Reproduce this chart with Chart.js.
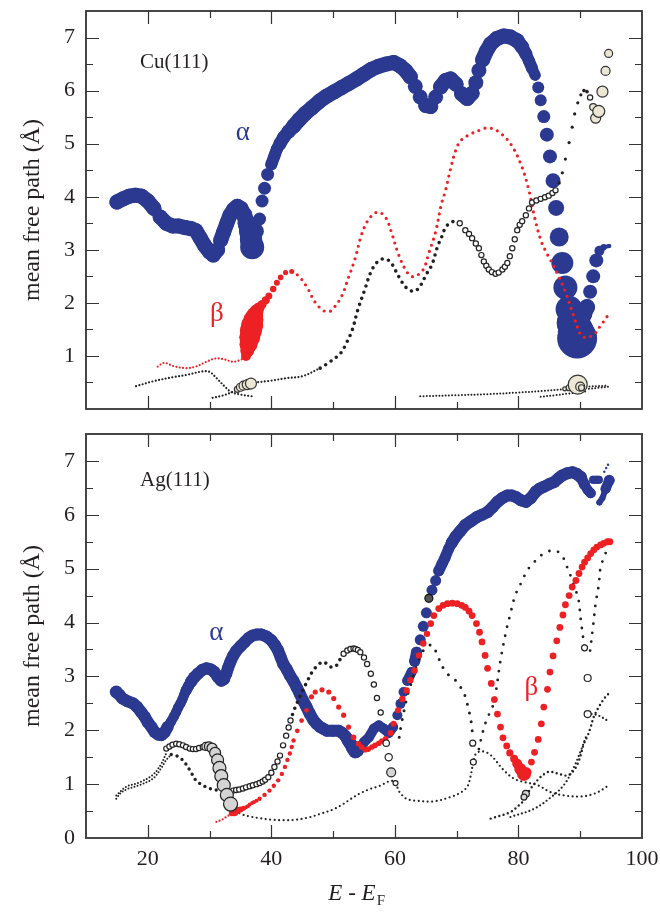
<!DOCTYPE html>
<html>
<head>
<meta charset="utf-8">
<script src="https://cdn.jsdelivr.net/npm/chart.js@4.4.1/dist/chart.umd.min.js"></script>
<style>
  body { margin: 0; background: #fff; }
  #wrap { position: relative; width: 660px; height: 912px; }
  canvas { position: absolute; left: 0; }
</style>
</head>
<body>
<div id="wrap">
  <canvas id="cuChart" width="660" height="420" style="top:0"></canvas>
  <canvas id="agChart" width="660" height="492" style="top:420px"></canvas>
</div>
<script>
// axes
const xTickLabels = [20, 40, 60, 80, 100];
const yTickLabels = [0, 1, 2, 3, 4, 5, 6, 7];

// Cu(111) : [E - EF, mean free path, marker weight]
const cuAlpha = [
  [15,3.90,7.5],[16,3.96,7.5],[17,4.01,7.5],[18,4.03,7.5],[19,4.01,7.5],[20,3.92,7.5],[21,3.78,7.5],[22,3.62,7.5],
  [23,3.50,7.5],[24,3.45,7.5],[25,3.45,7.5],[26,3.42,7.5],[27,3.40,7.5],[27.8,3.36,7.5],[28.5,3.22,7.5],[29.2,3.08,7.5],
  [30,2.96,7.5],[30.6,2.90,7.5],[31.3,3.00,7.5],[31.8,3.18,7.5],[32.3,3.34,7.5],[32.8,3.50,7.5],[33.3,3.65,7.5],
  [33.9,3.76,7.5],[34.5,3.82,7.5],[35.1,3.78,7.5],[35.6,3.66,8],[36.0,3.50,9],[36.4,3.35,10],[36.7,3.20,11],
  [36.9,3.05,12],[37.5,3.35,8],[38.1,3.58,6.5],[38.5,3.92,6.5],[38.9,4.16,6.5],[39.4,4.42,6.5],[40.0,4.61,6],
  [40.5,4.77,6],[40.9,4.90,6],[41.4,5.00,6.5],[42.0,5.12,6.5],[42.8,5.23,7],[43.6,5.33,7.5],[44.5,5.45,7.5],
  [45.5,5.57,7.5],[46.6,5.68,7.5],[47.8,5.80,7.5],[49.0,5.90,7.5],[50.2,5.98,7.5],[51.4,6.06,7.5],[52.6,6.14,7.5],
  [53.8,6.22,7.5],[55.0,6.31,7.5],[56.2,6.40,7.5],[57.4,6.46,7.5],[58.6,6.50,7.5],[59.8,6.53,7.5],[60.8,6.47,7.5],
  [61.7,6.38,7.5],[62.5,6.26,7.5],[63.3,6.08,7.5],[64.1,5.88,7.5],[65.0,5.72,7.5],[65.8,5.70,7.5],[66.6,5.88,7.5],
  [67.4,6.07,7.5],[68.2,6.19,7.5],[69.0,6.22,7.5],[69.9,6.12,7.5],[70.8,5.94,7.5],[71.7,5.85,7.5],[72.5,5.95,7.5],
  [73.1,6.15,7.5],[73.6,6.38,7.5],[74.2,6.58,7.5],[74.8,6.74,7.5],[75.5,6.88,7.5],[76.5,6.98,7.5],[77.6,7.03,7.5],
  [78.7,7.01,7.5],[79.8,6.94,7.5],[80.6,6.82,7],[81.2,6.69,6.5],[81.7,6.56,6],[82.2,6.42,6],[82.7,6.29,5.5],
  [83.2,6.06,6],[83.6,5.82,6],[84.1,5.51,6.5],[84.6,5.17,7],[85.1,4.76,7],[85.6,4.30,7.5],[86.1,3.79,8],
  [86.6,3.24,9.5],[87.1,2.75,11],[87.6,2.29,12],[88.2,1.88,13.5],[88.8,1.62,16],[89.3,1.45,18],[89.5,1.33,20],
  [90.0,1.67,10],[90.5,1.80,9],[91.1,1.92,8],[91.6,2.21,7],[92.1,2.50,7],[92.6,2.80,7],[93.1,2.98,5],
  [93.8,3.05,3],[94.7,3.07,2]
];
const cuBetaFine = [
  [21.6,0.80],[22.7,0.87],[24.1,0.81],[26.2,0.77],[27.8,0.80],[29.5,0.89],[30.8,0.95],[32.2,0.94],
  [33.8,0.89],[34.9,0.92],[35.6,0.96]
];
const cuBetaBlob = [
  [35.9,1.00,5],[36.1,1.10,7],[36.3,1.22,9],[36.5,1.35,10.5],[36.7,1.48,11],[36.9,1.58,11],[37.1,1.68,10],
  [37.3,1.76,8.5],[37.6,1.84,7],[38.0,1.91,5.5],[38.5,1.97,4.5],[39.1,2.05,4],[39.6,2.13,3.5],[40.3,2.26,3.2],
  [40.9,2.38,3],[41.5,2.48,2.8],[42.3,2.57,2.6],[43.3,2.59,2.5]
];
const cuBetaDots = [
  [43.3,2.59],[44.4,2.51],[45.8,2.29],[47.1,2.01],[48.5,1.85],[49.5,1.84],[50.1,1.90],[51.4,2.13],[52.5,2.48],
  [53.6,2.85],[54.5,3.25],[55.5,3.53],[56.6,3.68],[57.5,3.71],[58.6,3.59],[59.5,3.31],[60.5,2.94],[61.6,2.65],
  [62.5,2.51],[63.3,2.50],[64.6,2.63],[65.5,2.94],[66.6,3.34],[67.5,3.85],[68.2,4.12],[69.0,4.52],[69.8,4.86],
  [70.6,5.05],[71.9,5.16],[73.9,5.26],[75.2,5.30],[77.1,5.20],[79.0,4.95],[80.6,4.55],[81.7,4.12],[82.6,3.62],
  [83.6,3.19],[84.6,2.93],[85.1,2.83],[86.3,2.55],[87.6,2.21],[88.8,1.80],[90.1,1.39],[90.7,1.35],[91.3,1.35],
  [91.7,1.37],[92.2,1.41],[92.7,1.46],[93.1,1.54],[93.6,1.62],[94.2,1.71],[94.7,1.84]
];
const cuBlackA = [
  [18.1,0.43],[20.8,0.52],[24.1,0.60],[26.2,0.64],[28.9,0.71],[30.0,0.70],[30.8,0.62],[31.4,0.55],
  [32.4,0.43],[33.5,0.32],[35.1,0.27],[36.8,0.24]
];
const cuBlackB = [[30.5,0.21],[32.0,0.25],[33.5,0.31],[34.5,0.38]];
const cuBlackB2 = [[37.3,0.50],[39.7,0.53],[42.4,0.58],[45.1,0.62],[47.9,0.77]];
const cuBlackB3 = [
  [47.9,0.77],[49.5,0.89],[51.2,1.05],[52.1,1.23],[53.1,1.49],[54.0,1.87],[55.1,2.24],[56.0,2.55],[57.0,2.75],
  [58.1,2.83],[59.2,2.78],[60.1,2.61],[61.1,2.40],[62.1,2.26],[63.2,2.22],[64.1,2.32],[65.1,2.54],[66.0,2.72],
  [66.9,3.06],[67.6,3.25],[68.3,3.44],[69.5,3.54]
];
const cuRings = [
  [70.5,3.50,2.6],[71.4,3.37,2.6],[72.0,3.30,2.6],[72.5,3.22,2.6],[73.1,3.12,2.6],[73.6,3.03,2.6],[74.0,2.90,2.6],
  [74.4,2.78,2.6],[74.8,2.70,2.6],[75.2,2.63,2.6],[75.7,2.58,2.6],[76.3,2.55,2.6],[76.8,2.57,2.6],[77.4,2.63,2.6],
  [77.8,2.68,2.6],[78.2,2.75,2.6],[78.6,2.88,2.6],[79.0,3.03,2.6],[79.4,3.20,2.6],[79.8,3.37,2.6],[80.2,3.47,2.6],
  [80.6,3.54,2.6],[81.2,3.65,2.6],[81.7,3.78,2.6],[82.2,3.89,2.6],[82.9,3.93,2.6],[83.6,3.96,2.6],[84.3,3.99,2.6],
  [84.9,4.02,2.6],[85.5,4.07,2.6],[86.0,4.12,2.6],[91.6,5.87,2.6]
];
const cuBlackC = [
  [86.6,4.26,1.6],[87.1,4.45,1.6],[87.6,4.71,1.6],[88.2,5.02,1.6],[88.7,5.31,1.6],[89.1,5.56,1.6],[89.6,5.77,1.6],
  [90.1,5.92,1.6],[90.6,6.00,1.8],[91.1,5.98,1.8]
];
const cuTan = [
  [34.5,0.37,3],[35.0,0.41,4],[35.5,0.44,4.5],[36.1,0.46,5],[36.7,0.48,5.5],
  [92.1,5.69,3.5],[92.5,5.48,5],[93.0,5.61,6],[93.6,5.98,5.5],[94.1,6.37,4.5],[94.6,6.70,4],
  [87.5,0.38,2],[88.2,0.40,3],[88.9,0.42,4.5],[89.6,0.46,9.5],[90.0,0.42,4.5],[90.2,0.40,3]
];
const cuLowC = [[64.1,0.24],[70,0.26],[75,0.28],[80,0.31],[84,0.34],[87,0.37],[89,0.40],[91,0.42],[94.6,0.44]];
const cuLowD = [[83.6,0.23],[86,0.26],[88,0.29],[90,0.32],[91.1,0.33]];
const cuLowE = [[91.4,0.38],[93,0.40],[94.6,0.42]];

// Ag(111)
const agAlpha = [
  [14.9,2.71,6.5],[15.4,2.66,6],[15.9,2.59,6],[16.7,2.54,6],[17.6,2.50,6],[18.3,2.43,6],[18.9,2.34,6],[19.5,2.25,6],
  [20.0,2.15,6],[20.6,2.06,6],[21.1,1.97,6],[21.7,1.92,6],[22.2,1.91,6],[22.7,1.96,6],[23.2,2.06,6],[23.7,2.15,5],
  [24.2,2.25,5],[24.6,2.34,5],[24.9,2.42,5],[25.3,2.50,5],[25.6,2.57,5],[25.9,2.66,5],[26.2,2.74,5.5],[26.6,2.82,5.5],
  [27.0,2.90,6],[27.5,2.98,6],[28.1,3.05,6],[28.8,3.12,6],[29.5,3.15,6],[30.2,3.13,6],[30.8,3.08,6],[31.4,2.98,6],
  [31.9,2.93,6.5],[32.3,2.96,6.5],[32.7,3.05,6],[33.0,3.16,6],[33.4,3.28,6],[33.8,3.38,6],[34.3,3.47,6],[35.0,3.56,6],
  [35.7,3.64,6],[36.3,3.71,6],[37.0,3.76,6],[37.7,3.78,6],[38.4,3.78,6],[39.2,3.74,6],[40.0,3.67,6],[40.6,3.58,6],
  [41.1,3.48,6],[41.5,3.36,6],[41.9,3.24,6],[42.5,3.13,6],[43.0,3.02,6],[43.6,2.91,6],[44.1,2.80,6],[44.6,2.68,6],
  [45.1,2.56,6],[45.7,2.43,6],[46.2,2.31,6],[46.8,2.19,6],[47.3,2.12,6],[47.9,2.06,6],[48.4,2.03,6],[49.0,1.99,6],
  [49.9,1.99,6],[50.9,1.99,6],[51.5,1.95,6],[52.0,1.89,6],[52.4,1.82,6.5],[52.8,1.75,6.5],[53.2,1.68,7],[53.6,1.61,7],
  [54.0,1.62,6],[54.5,1.70,5],[55.0,1.78,5],[55.8,1.87,5],[56.6,2.03,5],[57.4,2.09,5],[58.2,2.03,5],[59.0,1.95,5],
  [59.7,2.06,5],[60.4,2.28,5],[60.9,2.49,5],[61.4,2.71,5],[62.0,2.92,5],[62.7,3.08,5],[63.2,3.28,5.5],[63.5,3.45,5.5],
  [64.1,3.68,5.5],[64.6,3.93,5.5],[65.1,4.18,5.5],[66.0,4.60,5.5],[66.6,4.78,5.5],[67.1,4.96,5.5],[67.6,5.08,5.5],
  [68.1,5.20,5.5],[68.7,5.37,5.5],[69.2,5.48,6],[69.8,5.59,6],[70.6,5.70,6],[71.4,5.81,6],[72.3,5.88,6],[73.3,5.96,6],
  [74.1,6.00,6],[75.0,6.05,6],[75.8,6.14,6],[76.6,6.24,6],[77.4,6.31,6],[78.2,6.36,6],[78.9,6.36,6],[79.6,6.33,6],
  [80.4,6.27,6],[81.2,6.24,6],[82.0,6.31,6],[82.8,6.43,6],[83.5,6.49,6],[84.1,6.52,6],[85.0,6.57,6],[85.8,6.61,6],
  [86.5,6.68,6],[87.1,6.73,6],[87.9,6.77,6],[88.7,6.79,6],[89.4,6.76,6],[90.1,6.70,6],[90.7,6.56,5.5],[91.2,6.46,5],
  [91.7,6.40,5],[92.1,6.65,4],[92.6,6.65,4],[93.0,6.65,4],[93.1,6.23,3],[93.6,6.31,3],[94.1,6.48,5],[94.7,6.64,5.5]
];
const agAlphaTail = [[93.9,6.80,1.2],[94.2,6.87,1.2],[94.5,6.93,1.2]];
const agBetaFine = [[31.1,0.30],[32.0,0.34],[32.7,0.39],[33.4,0.44]];
const agBeta = [
  [33.6,0.46,3],[34.0,0.48,4],[34.5,0.51,3.5],[35.0,0.53,3],[35.5,0.55,2.5],[35.9,0.57,2],[36.2,0.59,2],[36.5,0.62,2],
  [36.9,0.65,2],[37.2,0.67,2],[37.6,0.69,2],[38.1,0.73,2.2],[38.9,0.80,2.2],[39.7,0.88,2.2],[40.4,0.97,2.2],
  [41.1,1.07,2.2],[41.7,1.19,2.2],[42.2,1.32,2.2],[42.6,1.45,2.2],[43.0,1.57,2.2],[43.3,1.69,2.2],[43.6,1.81,2.2],
  [44.2,1.99,2.4],[44.9,2.18,2.4],[45.7,2.37,2.4],[46.5,2.62,2.6],[47.1,2.71,2.6],[48.2,2.75,2.6],[49.3,2.71,2.6],
  [50.1,2.59,2.6],[50.9,2.43,2.6],[51.7,2.28,2.6],[52.5,2.06,2.6],[53.3,1.87,2.8],[54.1,1.75,2.8],[54.6,1.69,2.8],
  [55.2,1.64,2.8],[55.7,1.65,2.8],[56.3,1.69,2.8],[56.8,1.72,2.8],[57.4,1.76,2.8],[57.9,1.80,2.8],[58.5,1.84,2.8],
  [59.3,1.95,3],[59.8,2.12,3],[60.5,2.37,3],[61.2,2.58,3.2],[61.9,2.74,3.2],[62.5,2.93,3.2],[63.2,3.11,3.2],
  [63.9,3.39,3.2],[64.6,3.61,3.2],[65.2,3.79,3.2],[65.8,3.98,3.4],[66.3,4.13,3.4],[67.1,4.26,3.4],[67.8,4.32,3.4],
  [68.5,4.35,3.4],[69.3,4.36,3.4],[70.1,4.35,3.4],[70.8,4.32,3.4],[71.4,4.28,3.4],[72.0,4.21,3.4],[72.5,4.13,3.4],
  [73.2,3.98,3.4],[73.7,3.82,3.4],[74.1,3.64,3.4],[74.6,3.39,3.4],[75.0,3.15,3.4],[75.6,2.87,3.4],[76.1,2.57,3.4],
  [76.6,2.30,3.4],[77.1,2.06,3.4],[77.5,1.86,3.4],[78.1,1.71,3.4],[78.6,1.58,3.6],[79.3,1.47,4],[79.8,1.38,5],
  [80.3,1.28,6],[80.9,1.19,7],[81.3,1.22,5],[82.1,1.41,3.4],[82.6,1.59,3.4],[83.2,1.83,3.4],[83.7,2.12,3.4],
  [84.1,2.43,3.4],[84.7,2.76,3.4],[85.1,3.08,3.4],[85.6,3.38,3.4],[86.2,3.66,3.4],[86.7,3.91,3.4],[87.2,4.14,3.4],
  [87.6,4.33,3.4],[88.2,4.50,3.4],[88.7,4.66,3.4],[89.3,4.78,3.4],[89.8,4.91,3.4],[90.3,5.03,3.4],[90.7,5.12,3.4],
  [91.2,5.20,3.4],[91.7,5.28,3.4],[92.2,5.35,3.4],[92.7,5.40,3.4],[93.3,5.44,3.4],[93.8,5.47,3.4],[94.4,5.50,3.4],
  [94.8,5.50,3.4]
];
const agFine1 = [[14.9,0.73],[15.5,0.82],[16.5,0.90],[18.6,0.98],[20.8,1.10],[22.2,1.30],[23.0,1.45],[23.8,1.55]];
const agFine2 = [[14.9,0.79],[16.5,0.95],[18.6,1.03],[20.8,1.17],[22.2,1.38],[23.0,1.58]];
const agDots1 = [[23.8,1.55],[24.6,1.53],[25.7,1.44],[26.8,1.26],[27.8,1.07],[28.9,0.98],[30.0,0.92],[31.6,0.88],[33.0,0.86]];
const agDots2 = [
  [43.1,2.18],[43.6,2.35],[44.1,2.49],[44.6,2.62],[45.1,2.74],[45.9,2.93],[46.6,3.08],[47.3,3.18],[48.4,3.27],
  [49.5,3.18],[50.2,3.17],[50.6,3.21],[51.2,3.33],[51.7,3.42]
];
const agRings = [
  [23.0,1.66,2.6],[23.5,1.70,2.6],[24.0,1.73,2.6],[24.6,1.75,2.6],[25.1,1.74,2.6],[25.7,1.72,2.6],[26.2,1.69,2.6],
  [26.8,1.66,2.6],[27.3,1.65,2.6],[27.8,1.65,2.6],[28.3,1.67,2.6],[28.9,1.69,2.6],
  [33.8,0.88,2.6],[34.3,0.89,2.6],[34.8,0.90,2.6],[35.4,0.92,2.6],[35.9,0.94,2.6],[36.5,0.96,2.6],[37.0,0.98,2.6],
  [37.6,1.00,2.6],[38.1,1.02,2.6],[38.6,1.05,2.6],[39.0,1.08,2.6],[39.5,1.13,2.6],[40.0,1.21,2.6],[40.5,1.32,2.6],
  [41.0,1.42,2.6],[41.4,1.53,2.6],[41.9,1.72,2.6],[42.4,1.90,2.6],[42.8,2.05,2.6],[43.1,2.18,2.6],
  [51.7,3.42,2.6],[52.3,3.48,2.6],[52.8,3.51,2.6],[53.3,3.52,2.6],[53.6,3.51,2.6],[54.0,3.49,2.6],[54.4,3.45,2.6],
  [55.0,3.35,2.6],[55.5,3.23,2.6],[56.1,3.05,2.6],[56.6,2.85,2.6],[57.1,2.60,2.6],[57.7,2.33,2.6],[58.6,1.76,3.2],
  [59.0,1.50,3.6],[60.1,1.02,2.5],[72.6,1.76,3],[72.7,1.41,3],[90.7,3.53,3],[91.2,2.97,3.5],[91.2,2.30,3.5]
];
const agDark = [[65.5,4.45,4]];
const agGray = [
  [29.4,1.70,4],[29.9,1.70,4.5],[30.4,1.67,5],[30.9,1.58,5.5],[31.3,1.45,6],[31.6,1.30,6.5],[31.9,1.15,6.5],
  [32.3,0.98,6.5],[32.8,0.80,6.5],[33.4,0.63,7],[59.4,1.22,4.5],[81.2,0.82,3.5],[80.9,0.76,3]
];
const agLow = [
  [33.6,0.55],[35,0.45],[36.5,0.40],[38,0.37],[40,0.34],[42,0.33],[44,0.34],[46,0.38],[48,0.45],[50,0.53],
  [51.5,0.62],[52.8,0.72],[54.4,0.83],[56.0,0.91],[57.6,0.97],[59.3,1.06],[60.1,1.02],[60.6,0.88],[61.3,0.78],
  [62.0,0.72],[63.6,0.69],[66.3,0.68],[69.0,0.76],[70.6,0.84],[71.7,0.95],[72.2,1.12],[72.6,1.35],[73.1,1.56],
  [74.1,1.61],[75.5,1.54],[77.6,1.26],[79.3,1.10],[80.9,1.04],[83.1,0.98],[85.2,0.85],[87.4,0.79],[90.1,0.77],
  [92.2,0.82],[93.9,0.92],[94.7,1.00]
];
const agSparse1 = [
  [60.7,1.87],[61.1,2.15],[62.0,2.63],[62.5,2.82],[63.5,3.20],[64.5,3.46],[65.2,3.55],[66.0,3.58],[66.8,3.42],
  [67.6,3.20],[68.5,3.05],[69.3,2.98],[70.1,2.89],[71.2,2.68],[71.7,2.50],[72.3,2.19],[72.6,1.90]
];
const agSparse2 = [
  [73.6,1.65],[74.1,1.91],[74.9,2.21],[75.8,2.43],[76.3,2.68],[77.1,3.30],[78.1,3.89],[78.6,4.12],[79.5,4.51],
  [80.5,4.75],[81.5,4.98],[82.8,5.15],[84.1,5.28],[85.8,5.34],[87.0,5.25],[87.8,5.05],[88.5,4.85],[89.1,4.65],
  [89.7,4.44],[90.1,4.04],[90.7,3.53]
];
const agSparse3 = [[91.6,3.48],[92.1,3.95],[92.5,4.36],[93.0,4.70],[93.3,5.03],[93.9,5.22],[94.4,5.38]];
const agRise1 = [
  [75.5,0.36],[78.7,0.48],[80.0,0.60],[80.9,0.70],[81.6,0.85],[82.2,0.95],[83.3,1.10],[84.2,1.19],[85.0,1.23],
  [86.3,1.20],[87.9,1.16],[89.0,1.26],[89.8,1.44],[90.6,1.75],[91.2,1.90],[91.7,2.06],[92.2,2.25],[93.3,2.49],
  [94.1,2.62],[94.7,2.69]
];
const agRise2 = [[78.7,0.39],[82.5,0.54],[85.2,0.75],[87.4,0.99],[89.0,1.32],[90.1,1.62],[90.9,1.87]];
const agShort = [[91.2,2.30],[92.0,2.30],[93.0,2.27],[94.4,2.18]];

// styles
const serif = "'Liberation Serif', 'Times New Roman', serif";
const blue = "#2b3990";
const red = "#ed2024";
const ink = "#231f20";
const clear = "rgba(0,0,0,0)";

function toPoints(arr) {
  return arr.map((p) => ({ x: p[0], y: p[1], r: p[2] }));
}

function circles(arr, fill, stroke, order) {
  return {
    data: toPoints(arr),
    showLine: false,
    pointRadius: (c) => c.raw.r,
    pointHoverRadius: (c) => c.raw.r,
    pointBackgroundColor: fill,
    pointBorderColor: stroke || fill,
    pointBorderWidth: stroke ? 1.2 : 0,
    order
  };
}

// gros points qui se recouvrent : on comble les creux avec un trait aussi large que les points
function band(arr, color, order) {
  const ds = circles(arr, color, null, order);
  const near = (c) => Math.hypot(c.p1.x - c.p0.x, c.p1.y - c.p0.y) < 10;
  ds.showLine = true;
  ds.borderColor = color;
  ds.borderWidth = 1;
  ds.tension = 0;
  ds.borderCapStyle = "round";
  ds.borderJoinStyle = "round";
  ds.segment = {
    borderColor: (c) => (near(c) ? color : clear),
    borderWidth: (c) => (near(c) ? 2 * Math.min(c.p0.options.radius, c.p1.options.radius) : 1)
  };
  return ds;
}

function dotted(arr, color, size, gap, order) {
  return {
    data: toPoints(arr),
    showLine: true,
    pointRadius: 0,
    pointHoverRadius: 0,
    borderColor: color,
    borderWidth: size,
    borderDash: [0, gap],
    borderCapStyle: "round",
    tension: 0.35,
    order
  };
}

// cadre + graduations vers l'intérieur
const framePlugin = {
  id: "frame",
  afterDatasetsDraw(chart) {
    const { ctx, chartArea: a, scales } = chart;
    const x = scales.x, y = scales.y;
    ctx.save();
    ctx.strokeStyle = "#333";
    ctx.lineWidth = 1.2;
    ctx.beginPath();
    for (let v = 0.5; v <= 7; v += 0.5) {
      const py = Math.round(y.getPixelForValue(v)) + 0.5;
      const len = Number.isInteger(v) ? 13 : 7;
      ctx.moveTo(a.left, py); ctx.lineTo(a.left + len, py);
      ctx.moveTo(a.right, py); ctx.lineTo(a.right - len, py);
    }
    for (let v = 20; v <= 90; v += 10) {
      const px = Math.round(x.getPixelForValue(v)) + 0.5;
      const len = v % 20 === 0 ? 13 : 7;
      ctx.moveTo(px, a.bottom); ctx.lineTo(px, a.bottom - len);
      ctx.moveTo(px, a.top); ctx.lineTo(px, a.top + len);
    }
    ctx.stroke();
    ctx.lineWidth = 1.8;
    ctx.strokeRect(a.left, a.top, a.right - a.left, a.bottom - a.top);
    ctx.restore();
  }
};

// textes dans le graphique
const notesPlugin = {
  id: "notes",
  afterDraw(chart, args, opts) {
    const { ctx, scales } = chart;
    ctx.save();
    (opts.items || []).forEach((n) => {
      ctx.font = n.font;
      ctx.fillStyle = n.color;
      ctx.textAlign = n.align || "left";
      ctx.textBaseline = "middle";
      ctx.fillText(n.text, scales.x.getPixelForValue(n.x), scales.y.getPixelForValue(n.y));
    });
    if (opts.xTitle) {
      const cx = (chart.chartArea.left + chart.chartArea.right) / 2 - 12;
      const base = chart.height - 12;
      ctx.fillStyle = ink;
      ctx.textBaseline = "alphabetic";
      ctx.textAlign = "left";
      ctx.font = "italic 23px " + serif;
      const main = "E - E";
      const w = ctx.measureText(main).width;
      ctx.fillText(main, cx - w / 2, base);
      ctx.font = "15px " + serif;
      ctx.fillText("F", cx + w / 2 + 1, base + 5);
    }
    ctx.restore();
  }
};

function makeOptions(showX, padTop, bottomHeight, notes) {
  return {
    responsive: false,
    animation: false,
    devicePixelRatio: 1,
    events: [],
    layout: { padding: { top: padTop, right: 18, left: 0, bottom: 0 } },
    plugins: {
      legend: { display: false },
      tooltip: { enabled: false },
      notes: { items: notes, xTitle: showX }
    },
    scales: {
      x: {
        type: "linear",
        min: 10,
        max: 100,
        grid: { display: false, drawTicks: false },
        border: { display: false },
        ticks: {
          display: showX,
          stepSize: 10,
          padding: 8,
          color: ink,
          font: { family: serif, size: 22 },
          maxRotation: 0,
          autoSkip: false,
          callback: (v) => (xTickLabels.includes(v) ? String(v) : "")
        },
        afterFit: (s) => {
          s.height = bottomHeight;
          s.paddingLeft = 0;
          s.paddingRight = 0;
        }
      },
      y: {
        type: "linear",
        min: 0,
        max: 7.5,
        grid: { display: false, drawTicks: false },
        border: { display: false },
        ticks: {
          stepSize: 1,
          padding: 11,
          color: ink,
          font: { family: serif, size: 22 },
          callback: (v) => (yTickLabels.includes(v) && (showX || v > 0) ? String(v) : "")
        },
        title: {
          display: true,
          text: "mean free path (Å)",
          color: ink,
          font: { family: serif, size: 24 },
          padding: { top: 18, bottom: 0 }
        },
        afterFit: (s) => {
          s.width = 86;
          s.paddingTop = 0;
          s.paddingBottom = 0;
        }
      }
    }
  };
}

const greek = "27px " + serif;
const label = "21px " + serif;

new Chart(document.getElementById("cuChart"), {
  type: "scatter",
  data: {
    datasets: [
      circles(cuTan, "#ece6d4", "#333", 1),
      circles(cuRings, "#ffffff", "#222", 1),
      circles(cuBlackC, ink, null, 2),
      dotted(cuBetaFine, red, 2.2, 3.4, 2),
      circles(cuBetaBlob, red, null, 2),
      dotted(cuBetaDots, red, 3.2, 6.5, 2),
      dotted(cuBlackA, ink, 2.2, 3.4, 3),
      dotted(cuBlackB, ink, 2.2, 3.4, 3),
      dotted(cuBlackB2, ink, 2.2, 3.4, 3),
      dotted(cuBlackB3, ink, 3.6, 6.5, 3),
      dotted(cuLowC, ink, 2, 3.2, 3),
      dotted(cuLowD, ink, 2, 3.2, 3),
      dotted(cuLowE, ink, 2, 3.2, 3),
      band(cuAlpha, blue, 5)
    ]
  },
  options: makeOptions(false, 10, 7, [
    { text: "Cu(111)", x: 18.75, y: 6.53, color: ink, font: label },
    { text: "α", x: 35.4, y: 5.2, color: blue, font: greek, align: "center" },
    { text: "β", x: 31.2, y: 1.8, color: red, font: greek, align: "center" }
  ]),
  plugins: [framePlugin, notesPlugin]
});

new Chart(document.getElementById("agChart"), {
  type: "scatter",
  data: {
    datasets: [
      circles(agGray, "#d4d4d4", "#222", 1),
      circles(agRings, "#ffffff", "#222", 1),
      circles(agDark, "#555555", "#111", 1),
      dotted(agBetaFine, red, 2.2, 3.4, 2),
      circles(agBeta, red, null, 2),
      dotted(agFine1, ink, 2, 3.2, 3),
      dotted(agFine2, ink, 2, 3.2, 3),
      dotted(agDots1, ink, 3.4, 6, 3),
      dotted(agDots2, ink, 3.6, 6.5, 3),
      dotted(agLow, ink, 2.2, 4.5, 3),
      dotted(agSparse1, ink, 3, 9, 3),
      dotted(agSparse2, ink, 2.8, 9, 3),
      dotted(agSparse3, ink, 2.8, 9, 3),
      dotted(agRise1, ink, 2.4, 4.5, 3),
      dotted(agRise2, ink, 2.2, 4, 3),
      dotted(agShort, ink, 2.2, 4, 3),
      circles(agAlphaTail, blue, null, 4),
      band(agAlpha, blue, 5)
    ]
  },
  options: makeOptions(true, 14, 74, [
    { text: "Ag(111)", x: 18.75, y: 6.64, color: ink, font: label },
    { text: "α", x: 31.1, y: 3.8, color: blue, font: greek, align: "center" },
    { text: "β", x: 82.1, y: 2.78, color: red, font: greek, align: "center" }
  ]),
  plugins: [framePlugin, notesPlugin]
});
</script>
</body>
</html>
